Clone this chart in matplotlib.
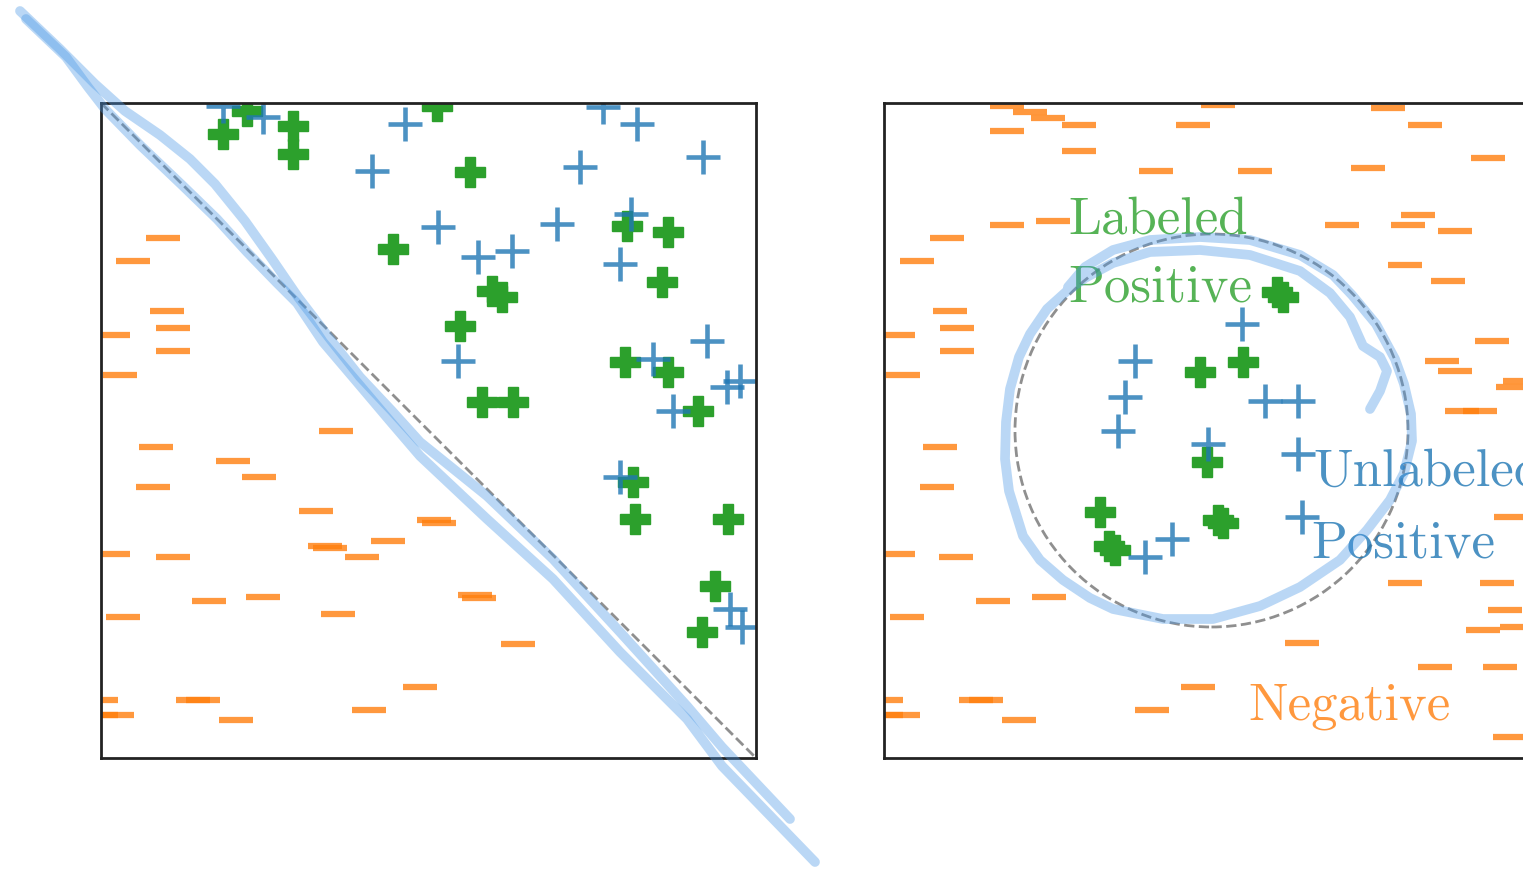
import numpy as np
import matplotlib
matplotlib.use("Agg")
import matplotlib.pyplot as plt
from matplotlib.lines import Line2D
from matplotlib.patches import Circle

# linear separator (left) -------------------------------------------------
neg_left_x = [0.095, 0.049, 0.101, 0.110, 0.018, 0.110, 0.029, 0.359, 0.084, 0.202,
              0.241, 0.079, 0.328, 0.508, 0.516, 0.438, 0.342, 0.350, 0.398, 0.018,
              0.110, 0.165, 0.247, 0.362, 0.034, 0.571, 0.577, 0.637, 0.487, 0.000,
              0.140, 0.156, 0.000, 0.024, 0.206, 0.409]
neg_left_y = [0.794, 0.759, 0.682, 0.656, 0.646, 0.621, 0.585, 0.499, 0.475, 0.453,
              0.429, 0.414, 0.377, 0.363, 0.359, 0.331, 0.324, 0.321, 0.307, 0.311,
              0.307, 0.240, 0.246, 0.220, 0.215, 0.249, 0.244, 0.174, 0.108, 0.089,
              0.089, 0.089, 0.066, 0.066, 0.058, 0.073]

lab_left_x = [0.186, 0.223, 0.293, 0.293, 0.446, 0.513, 0.563, 0.803, 0.866, 0.856,
              0.597, 0.612, 0.548, 0.800, 0.866, 0.582, 0.629, 0.911, 0.812, 0.815,
              0.957, 0.937, 0.918]
lab_left_y = [0.953, 0.988, 0.965, 0.922, 0.777, 0.995, 0.895, 0.812, 0.803, 0.727,
              0.713, 0.704, 0.660, 0.605, 0.589, 0.544, 0.544, 0.530, 0.421, 0.365,
              0.365, 0.263, 0.192]

unl_left_x = [0.186, 0.247, 0.464, 0.766, 0.818, 0.919, 0.731, 0.414, 0.515, 0.696,
              0.809, 0.792, 0.576, 0.627, 0.925, 0.545, 0.843, 0.956, 0.976, 0.873,
              0.792, 0.960, 0.979]
unl_left_y = [0.995, 0.979, 0.968, 0.994, 0.968, 0.918, 0.902, 0.896, 0.811, 0.815,
              0.831, 0.754, 0.765, 0.774, 0.637, 0.606, 0.609, 0.566, 0.576, 0.530,
              0.429, 0.227, 0.200]

# circular separator (right) ----------------------------------------------
neg_right_x = [0.188, 0.223, 0.250, 0.298, 0.188, 0.298, 0.472, 0.510, 0.415, 0.188,
               0.258, 0.096, 0.050, 0.101, 0.111, 0.021, 0.111, 0.029,
               0.769, 0.826, 0.566, 0.739, 0.922, 0.699, 0.815, 0.800, 0.872, 0.795,
               0.861, 0.928, 0.852, 0.872, 0.960, 0.971, 0.882, 0.910,
               0.085, 0.081, 0.021, 0.110, 0.166, 0.252, 0.035, 0.003, 0.140, 0.156,
               0.003, 0.029, 0.206, 0.409, 0.479,
               0.795, 0.936, 0.948, 0.966, 0.915, 0.638, 0.841, 0.940, 0.956, 0.957]
neg_right_y = [0.995, 0.986, 0.977, 0.966, 0.957, 0.927, 0.966, 0.997, 0.896, 0.814,
               0.820, 0.794, 0.759, 0.682, 0.656, 0.646, 0.621, 0.585,
               0.992, 0.966, 0.896, 0.901, 0.916, 0.814, 0.829, 0.814, 0.805, 0.753,
               0.728, 0.637, 0.606, 0.591, 0.566, 0.576, 0.530, 0.530,
               0.475, 0.414, 0.311, 0.307, 0.240, 0.246, 0.215, 0.089, 0.089, 0.089,
               0.066, 0.066, 0.058, 0.073, 0.108,
               0.267, 0.267, 0.226, 0.200, 0.195, 0.176, 0.139, 0.139, 0.032, 0.368]

lab_right_x = [0.600, 0.609, 0.482, 0.548, 0.493, 0.330, 0.510, 0.518, 0.344, 0.353]
lab_right_y = [0.711, 0.704, 0.589, 0.605, 0.452, 0.376, 0.363, 0.359, 0.324, 0.318]

unl_right_x = [0.547, 0.383, 0.368, 0.582, 0.632, 0.357, 0.495, 0.632, 0.638, 0.398, 0.440]
unl_right_y = [0.663, 0.606, 0.551, 0.545, 0.545, 0.499, 0.479, 0.464, 0.368, 0.307, 0.334]

# freehand pen marks over the figure, in pixels from the top-left corner
pen_diag_a = [(20, 12), (60, 50), (95, 85), (125, 112), (160, 136), (190, 160),
              (215, 185), (245, 222), (272, 260), (298, 298), (330, 340), (360, 378),
              (392, 412), (420, 443), (487, 497), (553, 560), (620, 633), (687, 707),
              (722, 748), (790, 820)]
pen_diag_b = [(26, 20), (66, 58), (88, 88), (105, 110), (140, 146), (183, 187),
              (217, 220), (247, 253), (277, 284), (297, 304), (323, 343), (357, 383),
              (390, 422), (420, 457), (487, 520), (553, 580), (620, 653), (687, 720),
              (722, 767), (815, 863)]
pen_loop = [(1370, 410), (1380, 392), (1387, 372), (1380, 358), (1363, 347),
            (1350, 318), (1330, 294), (1300, 272), (1250, 256), (1200, 251),
            (1150, 253), (1113, 264), (1085, 279), (1067, 292), (1047, 310),
            (1030, 335), (1019, 358), (1010, 390), (1006, 423), (1005, 460),
            (1009, 492), (1023, 537), (1040, 561), (1063, 581), (1090, 599),
            (1113, 610), (1163, 620), (1213, 620), (1260, 607), (1300, 588),
            (1340, 561), (1367, 531), (1390, 501), (1404, 474), (1412, 442),
            (1411, 415), (1404, 385), (1395, 360), (1376, 325), (1352, 296),
            (1333, 276), (1300, 256), (1250, 241), (1200, 238), (1150, 241),
            (1113, 251), (1085, 268), (1068, 288)]

W, H = 1523, 870
fig = plt.figure(figsize=(W / 100, H / 100), dpi=100)
fig.patch.set_facecolor("white")

ax_l = fig.add_axes([101 / W, 1 - 759 / H, 655 / W, 655 / H])
ax_r = fig.add_axes([884 / W, 1 - 759 / H, 655 / W, 655 / H])

orange = "#ff7f0e"
blue = "#1f77b4"
green = "#2ca02c"


def draw_points(ax, nx, ny, lx, ly, ux, uy):
    ax.plot(nx, ny, ls="none", marker="_", ms=24, mew=4.5, color=orange, alpha=0.8)
    ax.plot(lx, ly, ls="none", marker="P", ms=22, mew=1, color=green)
    ax.plot(ux, uy, ls="none", marker="+", ms=24, mew=3.3, color=blue, alpha=0.8)


draw_points(ax_l, neg_left_x, neg_left_y, lab_left_x, lab_left_y, unl_left_x, unl_left_y)
draw_points(ax_r, neg_right_x, neg_right_y, lab_right_x, lab_right_y, unl_right_x, unl_right_y)

ax_l.plot([0, 1], [1, 0], ls="--", lw=2.0, color="0.45", alpha=0.8)
ax_r.add_patch(Circle((0.5, 0.5), 0.3, fill=False, ls="--", lw=2.0,
                      edgecolor="0.45", alpha=0.8))

for ax in (ax_l, ax_r):
    ax.set_xlim(0, 1)
    ax.set_ylim(0, 1)
    ax.set_xticks([])
    ax.set_yticks([])
    for sp in ax.spines.values():
        sp.set_linewidth(2)
        sp.set_color("#222222")

txt = dict(family="cmr10", fontsize=38, ha="left", va="baseline", alpha=0.8,
           clip_on=False)
ax_r.text(0.281, 0.803, "Labeled", color=green, **txt)
ax_r.text(0.281, 0.698, "Positive", color=green, **txt)
ax_r.text(0.655, 0.418, "Unlabeled", color=blue, **txt)
ax_r.text(0.653, 0.308, "Positive", color=blue, **txt)
ax_r.text(0.556, 0.060, "Negative", color=orange, **txt)

for stroke in (pen_diag_a, pen_diag_b, pen_loop):
    px = np.array(stroke, dtype=float)
    fig.add_artist(Line2D(px[:, 0] / W, 1 - px[:, 1] / H, transform=fig.transFigure,
                          color="#4a98e6", alpha=0.38, lw=7,
                          solid_capstyle="round", solid_joinstyle="round"))

fig.savefig("out.png", dpi=100)
